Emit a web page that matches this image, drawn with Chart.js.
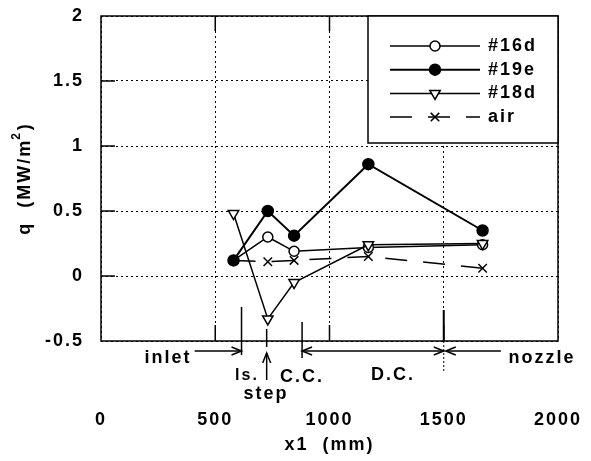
<!DOCTYPE html>
<html>
<head>
<meta charset="utf-8">
<script src="https://cdn.jsdelivr.net/npm/chart.js@4.4.1/dist/chart.umd.min.js"></script>
<style>
  html, body { margin: 0; padding: 0; background: #fff; }
</style>
</head>
<body>
<canvas id="heatFlux" width="591" height="461"></canvas>
<script>
// measurement stations along the combustor (mm)
const positions = [580, 730, 845, 1170, 1670];
// wall heat flux q (MW/m2) per run
const q16d = [0.12, 0.30, 0.19, 0.22, 0.24];
const q19e = [0.12, 0.50, 0.31, 0.86, 0.35];
const q18d = [0.48, -0.33, -0.05, 0.24, 0.25];
const qAir = [0.12, 0.11, 0.12, 0.15, 0.06];
const xTicks = [0, 500, 1000, 1500, 2000];
const yTicks = [-0.5, 0, 0.5, 1, 1.5, 2];
// section boundaries (mm)
const inletStart = 410, inletEnd = 615, stepPos = 725, ccPos = 880, dcEnd = 1500, nozzleStart = 1750;

const FONT = 'bold 18px "Liberation Sans", Arial, sans-serif';
const pts = ys => positions.map((x, i) => ({ x: x, y: ys[i] }));

function line(ctx, x1, y1, x2, y2) {
    ctx.beginPath();
    ctx.moveTo(x1, y1);
    ctx.lineTo(x2, y2);
    ctx.stroke();
}

function head(ctx, x, y, dir) {
    const L = 10, W = 4;
    ctx.beginPath();
    if (dir === 'right') { ctx.moveTo(x - L, y - W); ctx.lineTo(x, y); ctx.lineTo(x - L, y + W); }
    if (dir === 'left') { ctx.moveTo(x + L, y - W); ctx.lineTo(x, y); ctx.lineTo(x + L, y + W); }
    if (dir === 'up') { ctx.moveTo(x - W, y + L); ctx.lineTo(x, y); ctx.lineTo(x + W, y + L); }
    ctx.stroke();
}

const notesPlugin = {
    id: 'notes',
    beforeDraw(chart) {
        chart.ctx.letterSpacing = '2px';
    },
    afterDraw(chart) {
        const { ctx, chartArea: a, scales: { x, y } } = chart;
        const bx = v => x.getPixelForValue(v);
        ctx.save();
        ctx.strokeStyle = '#000';
        ctx.fillStyle = '#000';
        ctx.setLineDash([]);

        // plot frame
        ctx.lineWidth = 1.5;
        ctx.strokeRect(a.left, a.top, a.right - a.left, a.bottom - a.top);

        // short solid ticks on the inside of the frame
        ctx.lineWidth = 1.5;
        yTicks.slice(1, -1).forEach(v => {
            const py = y.getPixelForValue(v);
            line(ctx, a.left, py, a.left + 14, py);
        });
        xTicks.slice(1, -1).forEach(v => {
            const px = bx(v);
            line(ctx, px, a.bottom, px, a.bottom - 16);
            line(ctx, px, a.top, px, a.top + 15);
        });

        // legend box
        const lx = 368, ly = a.top, lw = a.right - lx, lh = 127;
        ctx.fillStyle = '#fff';
        ctx.fillRect(lx, ly, lw, lh);
        ctx.lineWidth = 1.5;
        ctx.strokeRect(lx, ly, lw, lh);
        ctx.font = FONT;
        ctx.letterSpacing = '2px';
        ctx.textBaseline = 'middle';
        ctx.textAlign = 'left';
        chart.data.datasets.forEach((ds, i) => {
            const rowY = ly + 30 + i * 23.7;
            ctx.strokeStyle = '#000';
            ctx.lineWidth = ds.borderWidth;
            ctx.setLineDash(ds.borderDash || []);
            line(ctx, lx + 22, rowY, lx + 112, rowY);
            ctx.setLineDash([]);
            ctx.fillStyle = ds.pointBackgroundColor;
            ctx.lineWidth = ds.pointBorderWidth;
            Chart.helpers.drawPoint(ctx, {
                pointStyle: ds.pointStyle,
                rotation: ds.pointRotation || 0,
                radius: ds.pointRadius,
                borderWidth: ds.pointBorderWidth
            }, lx + 67, rowY);
            ctx.fillStyle = '#000';
            ctx.fillText(ds.label, lx + 120, rowY);
        });

        // section markers below the frame
        const b = a.bottom;
        const arrowY = b + 10;
        ctx.strokeStyle = '#000';
        ctx.lineWidth = 1.5;
        line(ctx, bx(inletEnd), b - 34, bx(inletEnd), b + 14);
        line(ctx, bx(inletStart), arrowY, bx(inletEnd), arrowY);
        head(ctx, bx(inletEnd), arrowY, 'right');

        line(ctx, bx(stepPos), b - 12, bx(stepPos), b + 6);
        line(ctx, bx(stepPos), b + 12, bx(stepPos), b + 39);
        head(ctx, bx(stepPos), b + 12, 'up');

        line(ctx, bx(ccPos), b - 19, bx(ccPos), b + 17);
        line(ctx, bx(ccPos), arrowY, bx(dcEnd), arrowY);
        head(ctx, bx(ccPos), arrowY, 'left');
        head(ctx, bx(dcEnd), arrowY, 'right');

        ctx.lineWidth = 2;
        line(ctx, bx(dcEnd), b - 31, bx(dcEnd), b);
        ctx.lineWidth = 1;
        ctx.setLineDash([2, 2]);
        line(ctx, bx(dcEnd), b, bx(dcEnd), b + 31);
        ctx.setLineDash([]);
        ctx.lineWidth = 1.5;
        line(ctx, bx(nozzleStart), arrowY, bx(dcEnd) + 2, arrowY);
        head(ctx, bx(dcEnd) + 2, arrowY, 'left');

        ctx.fillStyle = '#000';
        ctx.font = FONT;
        ctx.textAlign = 'center';
        ctx.fillText('inlet', 168, b + 17);
        ctx.fillText('nozzle', 542, b + 17);
        ctx.fillText('D.C.', 393, b + 34);
        ctx.fillText('C.C.', 302, b + 36);
        ctx.fillText('step', 266, b + 53);
        ctx.font = 'bold 16px "Liberation Sans", Arial, sans-serif';
        ctx.fillText('ls.', 247, b + 35);

        // axis titles
        ctx.font = FONT;
        ctx.fillText('x1  (mm)', (a.left + a.right) / 2, 445);

        ctx.translate(25, (a.top + a.bottom) / 2);
        ctx.rotate(-Math.PI / 2);
        ctx.textAlign = 'left';
        const main = 'q  (MW/m';
        const supFont = 'bold 12px "Liberation Sans", Arial, sans-serif';
        const w1 = ctx.measureText(main).width;
        ctx.font = supFont;
        const w2 = ctx.measureText('2').width;
        ctx.font = FONT;
        const w3 = ctx.measureText(')').width;
        let tx = -(w1 + w2 + w3) / 2;
        ctx.fillText(main, tx, 0);
        ctx.font = supFont;
        ctx.fillText('2', tx + w1 - 1, -8);
        ctx.font = FONT;
        ctx.fillText(')', tx + w1 + w2, 0);
        ctx.restore();
    }
};

const tickFont = { family: '"Liberation Sans", Arial, sans-serif', size: 18, weight: 'bold' };

new Chart(document.getElementById('heatFlux'), {
    type: 'scatter',
    data: {
        datasets: [
            {
                label: '#16d', data: pts(q16d), showLine: true,
                borderColor: '#000', borderWidth: 1.5,
                pointStyle: 'circle', pointRadius: 5,
                pointBackgroundColor: '#fff', pointBorderColor: '#000', pointBorderWidth: 1.5,
                order: 2
            },
            {
                label: '#19e', data: pts(q19e), showLine: true,
                borderColor: '#000', borderWidth: 2,
                pointStyle: 'circle', pointRadius: 5.5,
                pointBackgroundColor: '#000', pointBorderColor: '#000', pointBorderWidth: 1.5,
                order: 0
            },
            {
                label: '#18d', data: pts(q18d), showLine: true,
                borderColor: '#000', borderWidth: 1.5,
                pointStyle: 'triangle', pointRotation: 180, pointRadius: 6,
                pointBackgroundColor: '#fff', pointBorderColor: '#000', pointBorderWidth: 1.5,
                order: 1
            },
            {
                label: 'air', data: pts(qAir), showLine: true,
                borderColor: '#000', borderWidth: 1.5, borderDash: [22, 16],
                pointStyle: 'crossRot', pointRadius: 6,
                pointBackgroundColor: '#000', pointBorderColor: '#000', pointBorderWidth: 1.5,
                order: 3
            }
        ]
    },
    options: {
        responsive: false,
        animation: false,
        devicePixelRatio: 1,
        layout: { padding: { left: 0, top: 16, right: 33, bottom: 0 } },
        plugins: { legend: { display: false }, tooltip: { enabled: false } },
        scales: {
            x: {
                type: 'linear', min: 0, max: 2000,
                afterFit: s => { s.height = 120; s.paddingLeft = 0; s.paddingRight = 0; },
                afterBuildTicks: s => { s.ticks = xTicks.map(v => ({ value: v })); },
                grid: { color: '#000', lineWidth: 1, drawTicks: false },
                border: { display: false, dash: [2, 3] },
                ticks: { color: '#000', font: tickFont, padding: 68, maxRotation: 0, callback: v => String(v) }
            },
            y: {
                type: 'linear', min: -0.5, max: 2,
                afterFit: s => { s.width = 101; s.paddingTop = 0; s.paddingBottom = 0; },
                afterBuildTicks: s => { s.ticks = yTicks.map(v => ({ value: v })); },
                grid: { color: '#000', lineWidth: 1, drawTicks: false },
                border: { display: false, dash: [2, 3] },
                ticks: { color: '#000', font: tickFont, padding: 17, callback: v => String(v) }
            }
        }
    },
    plugins: [notesPlugin]
});
</script>
</body>
</html>
